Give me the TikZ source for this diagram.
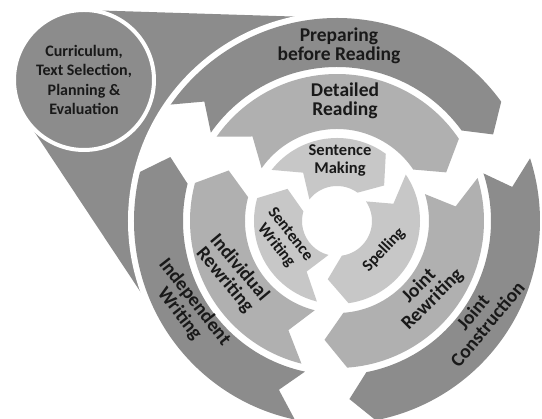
\documentclass[tikz,border=0pt]{standalone}
\usepackage{fontspec}
\setmainfont{Carlito}
\usetikzlibrary{calc}

\definecolor{ringdark}{gray}{0.55}
\definecolor{ringmid}{gray}{0.69}
\definecolor{ringlight}{gray}{0.78}
\definecolor{labelink}{gray}{0.1}

\tikzset{
  ringlabel/.style={text=labelink, inner sep=0pt, align=center,
    font=\bfseries\fontsize{19.5}{19}\selectfont},
  hublabel/.style={ringlabel, font=\bfseries\fontsize{16.5}{18}\selectfont},
  curricbox/.style={circle, fill=ringdark, draw=white, line width=4pt,
    minimum size=140pt, inner sep=0pt, text=labelink, align=center,
    font=\bfseries\fontsize{16}{19.5}\selectfont}
}

% #1 colour, #2 inner radius, #3 outer radius, #4 tail angle, #5 head angle, #6 point depth (deg)
\newcommand{\ringarrow}[6]{%
  \fill[#1] (#4:#3) arc[start angle=#4, end angle=#5, radius=#3]
    -- ({#5-#6}:{(#2+#3)/2}) -- (#5:#2)
    arc[start angle=#5, end angle=#4, radius=#2]
    -- ({#4-#6}:{(#2+#3)/2}) -- cycle;}

\begin{document}
\begin{tikzpicture}[x=1pt, y=1pt]
  \useasboundingbox (-337,-198) rectangle (205,221);
  \coordinate (hub) at (0,0);
  \coordinate (curc) at (-253,141);
  % funnel from the circle into the outer ring
  \fill[ringdark] (88.21:203) -- ($(curc)+(88.21:70)$)
    -- ($(curc)+(213.53:70)$) -- (213.53:203) -- cycle;
  \fill[white] (hub) circle[radius=209];
  % outer ring
  \ringarrow{ringdark}{154}{203}{145}{36}{7}
  \ringarrow{ringdark}{154}{203}{18}{-79}{7}
  \ringarrow{ringdark}{154}{203}{258}{166}{7}
  % middle ring
  \ringarrow{ringmid}{92}{147}{145}{34}{10}
  \ringarrow{ringmid}{92}{147}{17}{-86}{10}
  \ringarrow{ringmid}{92}{147}{256}{165}{10}
  % inner ring
  \ringarrow{ringlight}{35}{83}{142}{54}{17}
  \ringarrow{ringlight}{35}{83}{34}{-82}{17}
  \ringarrow{ringlight}{35}{83}{256}{164}{17}

  \node[curricbox] (curric) at (curc) {Curriculum,\\Text Selection,\\Planning \&\\Evaluation};
  \node[ringlabel] (prep) at (2,175) {Preparing\\before Reading};
  \node[ringlabel, rotate=50] (jointcon) at (143,-97) {Joint\\Construction};
  \node[ringlabel, rotate=-52] (indep) at (-150,-87) {Independent\\Writing};
  \node[ringlabel] (detail) at (8,120) {Detailed\\Reading};
  \node[ringlabel, rotate=45] (jointrw) at (89,-72) {Joint\\Rewriting};
  \node[ringlabel, rotate=-50] (indiv) at (-105,-53) {Individual\\Rewriting};
  \node[hublabel] (sentmake) at (3,61) {Sentence\\Making};
  \node[hublabel, rotate=47] (spell) at (47,-29) {Spelling};
  \node[hublabel, rotate=-52] (sentwrite) at (-54,-19) {Sentence\\Writing};
\end{tikzpicture}
\end{document}
